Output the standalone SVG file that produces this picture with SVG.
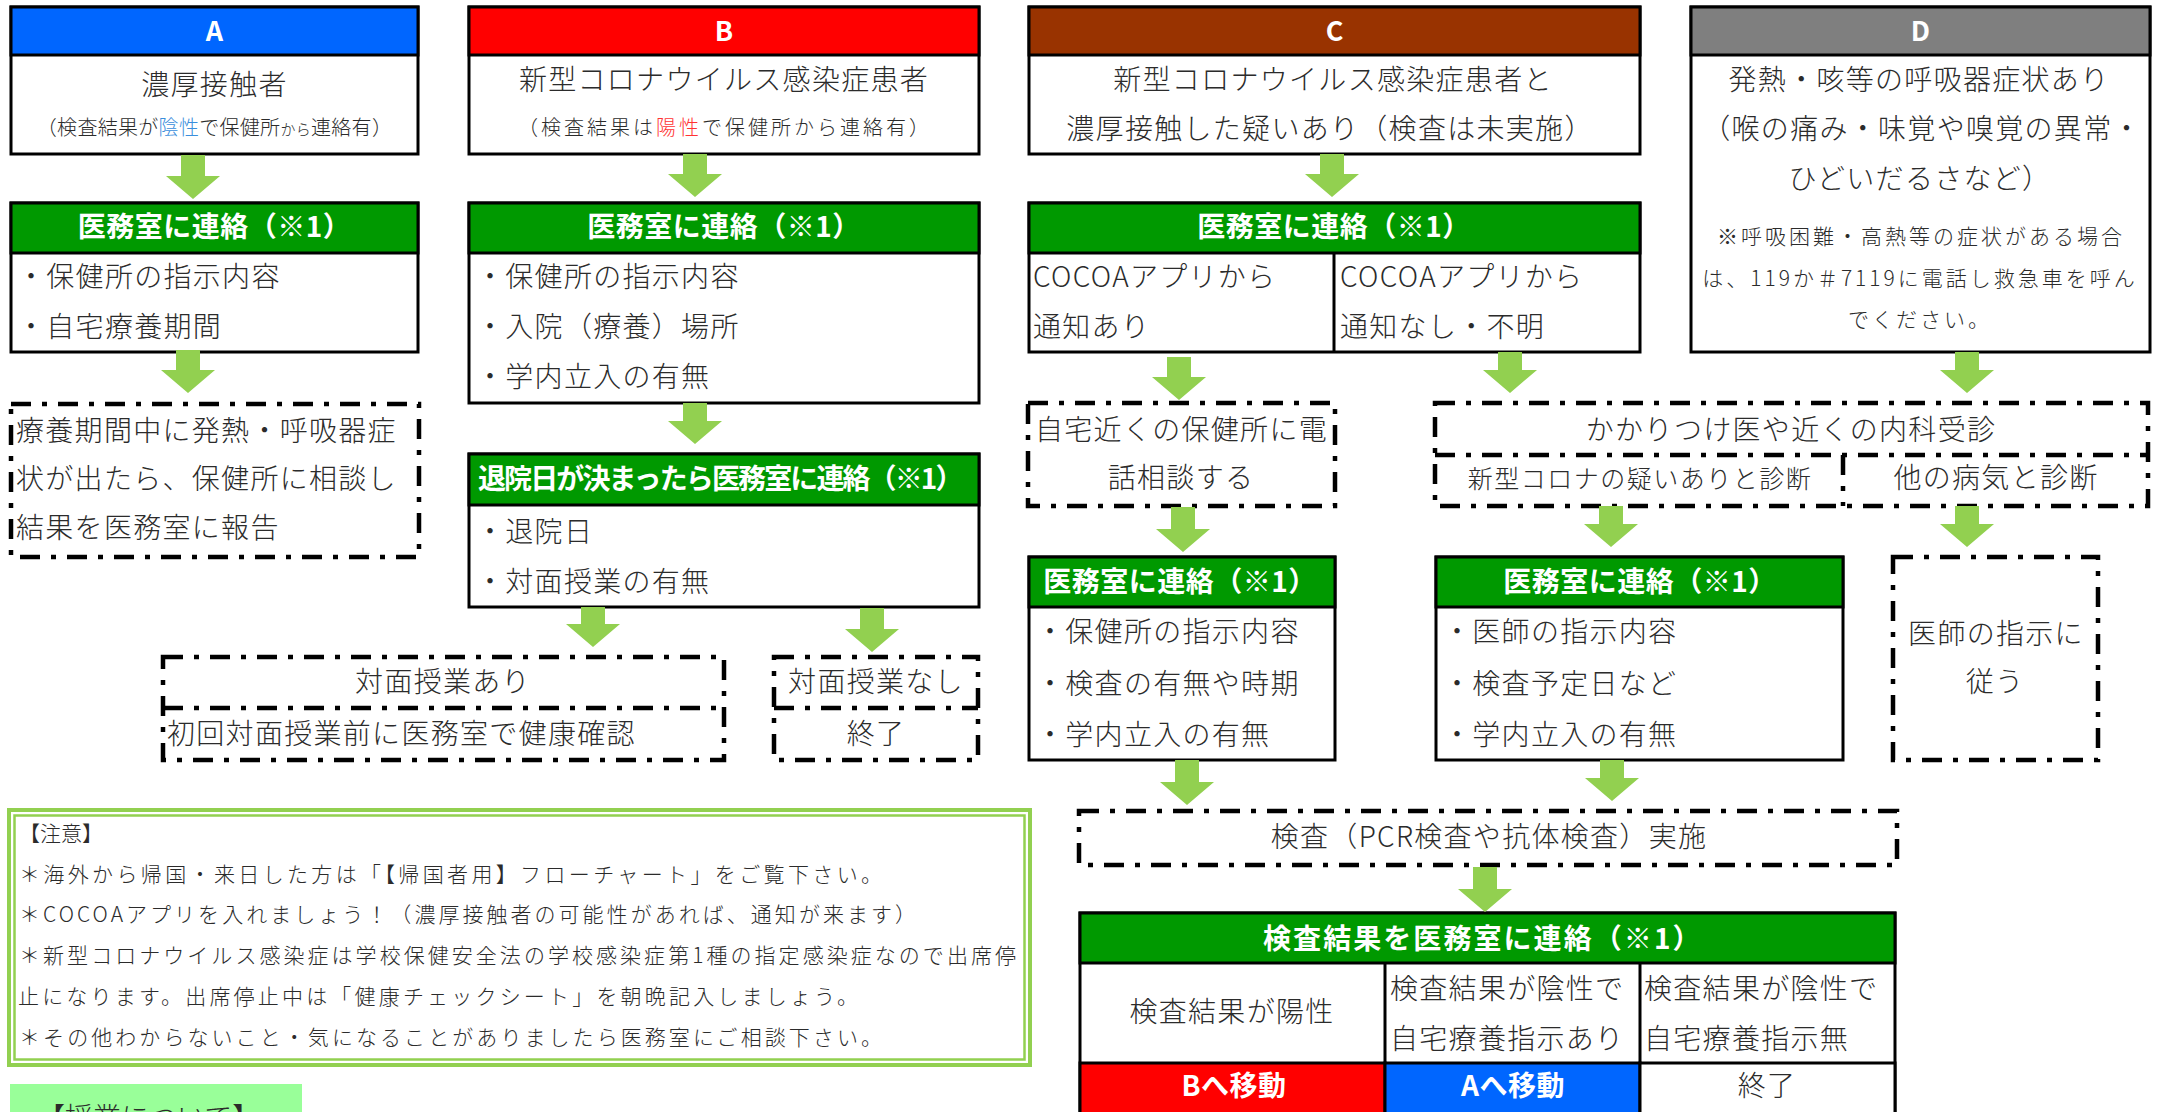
<svg xmlns="http://www.w3.org/2000/svg" width="2158" height="1112" viewBox="0 0 2158 1112">
<defs>
<style>
text{font-family:"Noto Sans CJK JP","Noto Sans CJK SC",sans-serif;fill:#2b2b2b;font-weight:300}
.t{font-size:28px;letter-spacing:1.3px}
.s{font-size:20px;letter-spacing:0.3px}
.s2{font-size:20px;letter-spacing:3px}
.m{font-size:21px;letter-spacing:3px}
.n{font-size:21px}
.h{font-size:28px;font-weight:700;fill:#fff;letter-spacing:0.5px}
.L{font-size:27px;font-weight:700;fill:#fff}
.c{text-anchor:middle}
.box{fill:#fff;stroke:#000;stroke-width:3}
.hd{stroke:#000;stroke-width:3}
.ln{stroke:#000;stroke-width:3;fill:none}
.dash{fill:none;stroke:#000;stroke-width:4.5;stroke-dasharray:20 11 5 11}
.arr{fill:#92D050}
.g{fill:#009900}
</style>
</defs>
<rect x="0" y="0" width="2158" height="1112" fill="#fff"/>

<g id="nodeA">
<rect x="11" y="7" width="407" height="147" class="box"/>
<rect x="11" y="7" width="407" height="48" fill="#0066FF" class="hd"/>
<text class="L c" x="214.5" y="41">A</text>
<text class="t c" x="214.5" y="95">濃厚接触者</text>
<text class="s c" x="214.5" y="135">（検査結果が<tspan fill="#3A8EDC">陰性</tspan>で保健所<tspan font-size="15">から</tspan>連絡有）</text>
</g>

<g id="nodeA1">
<rect x="11" y="203" width="407" height="149" class="box"/>
<rect x="11" y="203" width="407" height="50" class="g hd"/>
<text class="h c" x="214.5" y="237">医務室に連絡（※1）</text>
<text class="t" x="17" y="287">・保健所の指示内容</text>
<text class="t" x="17" y="337">・自宅療養期間</text>
</g>

<g id="nodeA2">
<rect x="11" y="404" width="408" height="153" class="dash"/>
<text class="t" x="16" y="441">療養期間中に発熱・呼吸器症</text>
<text class="t" x="16" y="489">状が出たら、保健所に相談し</text>
<text class="t" x="16" y="538">結果を医務室に報告</text>
</g>

<g id="nodeB">
<rect x="469" y="7" width="510" height="147" class="box"/>
<rect x="469" y="7" width="510" height="48" fill="#FF0000" class="hd"/>
<text class="L c" x="724" y="41">B</text>
<text class="t c" x="724" y="90">新型コロナウイルス感染症患者</text>
<text class="s2 c" x="725" y="135">（検査結果は<tspan fill="#FF3333">陽性</tspan>で保健所から連絡有）</text>
</g>

<g id="nodeB1">
<rect x="469" y="203" width="510" height="200" class="box"/>
<rect x="469" y="203" width="510" height="50" class="g hd"/>
<text class="h c" x="724" y="237">医務室に連絡（※1）</text>
<text class="t" x="476" y="287">・保健所の指示内容</text>
<text class="t" x="476" y="337">・入院（療養）場所</text>
<text class="t" x="476" y="387">・学内立入の有無</text>
</g>

<g id="nodeB2">
<rect x="469" y="454" width="510" height="153" class="box"/>
<rect x="469" y="454" width="510" height="51" class="g hd"/>
<text class="h" x="478" y="489" textLength="486" lengthAdjust="spacing">退院日が決まったら医務室に連絡（※1）</text>
<text class="t" x="476" y="542">・退院日</text>
<text class="t" x="476" y="592">・対面授業の有無</text>
</g>

<g id="nodeB3">
<rect x="163" y="657" width="561" height="103" class="dash"/>
<line x1="163" y1="708" x2="724" y2="708" class="dash"/>
<text class="t c" x="443" y="692">対面授業あり</text>
<text class="t" x="167" y="744">初回対面授業前に医務室で健康確認</text>
</g>

<g id="nodeB4">
<rect x="774" y="657" width="204" height="103" class="dash"/>
<line x1="774" y1="708" x2="978" y2="708" class="dash"/>
<text class="t c" x="876" y="692">対面授業なし</text>
<text class="t c" x="876" y="744">終了</text>
</g>

<g id="nodeC">
<rect x="1029" y="7" width="611" height="147" class="box"/>
<rect x="1029" y="7" width="611" height="48" fill="#993300" class="hd"/>
<text class="L c" x="1334.5" y="41">C</text>
<text class="t c" x="1333" y="90">新型コロナウイルス感染症患者と</text>
<text class="t c" x="1330" y="139">濃厚接触した疑いあり（検査は未実施）</text>
</g>

<g id="nodeC1">
<rect x="1029" y="203" width="611" height="149" class="box"/>
<rect x="1029" y="203" width="611" height="50" class="g hd"/>
<line x1="1334" y1="253" x2="1334" y2="352" class="ln"/>
<text class="h c" x="1334" y="237">医務室に連絡（※1）</text>
<text class="t" x="1033" y="287">COCOAアプリから</text>
<text class="t" x="1033" y="337">通知あり</text>
<text class="t" x="1340" y="287">COCOAアプリから</text>
<text class="t" x="1340" y="337">通知なし・不明</text>
</g>

<g id="nodeC2">
<rect x="1028" y="403" width="307" height="103" class="dash"/>
<text class="t" x="1035" y="440">自宅近くの保健所に電</text>
<text class="t c" x="1181" y="488">話相談する</text>
</g>

<g id="nodeC3">
<rect x="1029" y="557" width="306" height="203" class="box"/>
<rect x="1029" y="557" width="306" height="50" class="g hd"/>
<text class="h c" x="1180" y="592">医務室に連絡（※1）</text>
<text class="t" x="1036" y="642">・保健所の指示内容</text>
<text class="t" x="1036" y="694">・検査の有無や時期</text>
<text class="t" x="1036" y="745">・学内立入の有無</text>
</g>

<g id="nodeD">
<rect x="1691" y="7" width="459" height="345" class="box"/>
<rect x="1691" y="7" width="459" height="48" fill="#7F7F7F" class="hd"/>
<text class="L c" x="1920.5" y="41">D</text>
<text class="t c" x="1919" y="90">発熱・咳等の呼吸器症状あり</text>
<text class="t c" x="1922" y="139">（喉の痛み・味覚や嗅覚の異常・</text>
<text class="t c" x="1920" y="189">ひどいだるさなど）</text>
<text class="m c" x="1921" y="244">※呼吸困難・高熱等の症状がある場合</text>
<text class="m c" x="1920" y="286">は、119か＃7119に電話し救急車を呼ん</text>
<text class="m c" x="1920" y="327">でください。</text>
</g>

<g id="nodeK">
<rect x="1435" y="403" width="713" height="103" class="dash"/>
<line x1="1435" y1="455" x2="2148" y2="455" class="dash"/>
<line x1="1843" y1="455" x2="1843" y2="506" class="dash"/>
<text class="t c" x="1791" y="440">かかりつけ医や近くの内科受診</text>
<text class="c" x="1640" y="488" style="font-size:25px;letter-spacing:1.5px">新型コロナの疑いありと診断</text>
<text class="t c" x="1996" y="488">他の病気と診断</text>
</g>

<g id="nodeK1">
<rect x="1436" y="557" width="407" height="203" class="box"/>
<rect x="1436" y="557" width="407" height="50" class="g hd"/>
<text class="h c" x="1640" y="592">医務室に連絡（※1）</text>
<text class="t" x="1443" y="642">・医師の指示内容</text>
<text class="t" x="1443" y="694">・検査予定日など</text>
<text class="t" x="1443" y="745">・学内立入の有無</text>
</g>

<g id="nodeK2">
<rect x="1893" y="557" width="205" height="203" class="dash"/>
<text class="t c" x="1996" y="644">医師の指示に</text>
<text class="t c" x="1995" y="692">従う</text>
</g>

<g id="nodeT">
<rect x="1079" y="811" width="818" height="54" class="dash"/>
<text class="t c" x="1489" y="847">検査（PCR検査や抗体検査）実施</text>
</g>

<g id="nodeR">
<rect x="1080" y="913" width="815" height="210" class="box"/>
<rect x="1080" y="913" width="815" height="50" class="g hd"/>
<rect x="1080" y="1063" width="305" height="60" fill="#FF0000" class="hd"/>
<rect x="1385" y="1063" width="255" height="60" fill="#0066FF" class="hd"/>
<rect x="1640" y="1063" width="255" height="60" fill="#fff" class="hd"/>
<line x1="1385" y1="963" x2="1385" y2="1063" class="ln"/>
<line x1="1640" y1="963" x2="1640" y2="1063" class="ln"/>
<text class="h c" x="1482" y="949" textLength="438" lengthAdjust="spacing">検査結果を医務室に連絡（※1）</text>
<text class="t c" x="1232" y="1022">検査結果が陽性</text>
<text class="t" x="1390" y="999">検査結果が陰性で</text>
<text class="t" x="1390" y="1049">自宅療養指示あり</text>
<text class="t" x="1644" y="999">検査結果が陰性で</text>
<text class="t" x="1644" y="1049">自宅療養指示無</text>
<text class="h c" x="1234" y="1096">Bへ移動</text>
<text class="h c" x="1513" y="1096">Aへ移動</text>
<text class="t c" x="1767" y="1096">終了</text>
</g>

<g id="notes">
<rect x="9" y="810" width="1021" height="255" fill="#fff" stroke="#92D050" stroke-width="4"/>
<rect x="14.5" y="815.5" width="1010" height="244" fill="none" stroke="#92D050" stroke-width="2.5"/>
<text class="n" x="19" y="841">【注意】</text>
<text class="n" x="19" y="882" textLength="863" lengthAdjust="spacing">＊海外から帰国・来日した方は「【帰国者用】フローチャート」をご覧下さい。</text>
<text class="n" x="19" y="922" textLength="897" lengthAdjust="spacing">＊COCOAアプリを入れましょう！（濃厚接触者の可能性があれば、通知が来ます）</text>
<text class="n" x="19" y="963" textLength="997" lengthAdjust="spacing">＊新型コロナウイルス感染症は学校保健安全法の学校感染症第1種の指定感染症なので出席停</text>
<text class="n" x="18" y="1004" textLength="840" lengthAdjust="spacing">止になります。出席停止中は「健康チェックシート」を朝晩記入しましょう。</text>
<text class="n" x="19" y="1045" textLength="863" lengthAdjust="spacing">＊その他わからないこと・気になることがありましたら医務室にご相談下さい。</text>
</g>

<g id="classNote">
<rect x="10" y="1084" width="292" height="40" fill="#99FF99"/>
<text x="37" y="1128" style="font-size:28px">【授業について】</text>
</g>

<g id="connectors">
<polygon class="arr" points="181,155 205,155 205,176 220,176 193,199 166,176 181,176"/>
<polygon class="arr" points="176,350 200,350 200,370 215,370 188,393 161,370 176,370"/>
<polygon class="arr" points="683,154 707,154 707,174 722,174 695,197 668,174 683,174"/>
<polygon class="arr" points="683,403 707,403 707,421 722,421 695,444 668,421 683,421"/>
<polygon class="arr" points="581,607 605,607 605,624 620,624 593,647 566,624 581,624"/>
<polygon class="arr" points="860,608 884,608 884,629 899,629 872,652 845,629 860,629"/>
<polygon class="arr" points="1320,154 1344,154 1344,174 1359,174 1332,197 1305,174 1320,174"/>
<polygon class="arr" points="1167,357 1191,357 1191,377 1206,377 1179,400 1152,377 1167,377"/>
<polygon class="arr" points="1498,352 1522,352 1522,370 1537,370 1510,393 1483,370 1498,370"/>
<polygon class="arr" points="1955,352 1979,352 1979,370 1994,370 1967,393 1940,370 1955,370"/>
<polygon class="arr" points="1171,507 1195,507 1195,529 1210,529 1183,552 1156,529 1171,529"/>
<polygon class="arr" points="1599,506 1623,506 1623,524 1638,524 1611,547 1584,524 1599,524"/>
<polygon class="arr" points="1955,506 1979,506 1979,524 1994,524 1967,547 1940,524 1955,524"/>
<polygon class="arr" points="1175,760 1199,760 1199,782 1214,782 1187,805 1160,782 1175,782"/>
<polygon class="arr" points="1600,760 1624,760 1624,778 1639,778 1612,801 1585,778 1600,778"/>
<polygon class="arr" points="1473,867 1497,867 1497,889 1512,889 1485,912 1458,889 1473,889"/>
</g>
</svg>
